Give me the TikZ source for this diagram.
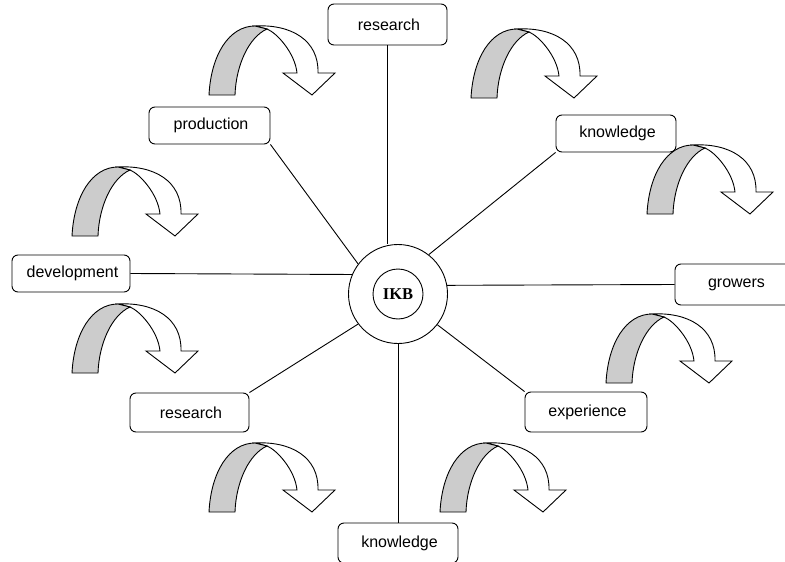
\documentclass[tikz,border=0pt]{standalone}
\usepackage{fontspec}
\setmainfont{Liberation Sans}
\newfontfamily\ikbfont{Liberation Serif}
\definecolor{bandgray}{HTML}{CCCCCC}
\tikzset{
  x=1pt, y=-1pt,
  lbl/.style={draw=black, line width=0.9pt, rounded corners=6pt, fill=white,
    font=\fontsize{16}{19}\selectfont, inner sep=0pt},
  conn/.style={draw=black, line width=0.9pt},
  ring/.style={draw=black, line width=0.9pt, circle, inner sep=0pt},
  curvarrow/.pic={
    \draw[line width=0.9pt, fill=white, line join=miter]
      (46,-69) .. controls (82,-71) and (110,-55) .. (109,-22)
      -- (126,-22) -- (103,0) -- (74,-22) -- (88,-22)
      .. controls (86,-42) and (68,-62) .. (58,-66) -- cycle;
    \draw[line width=0.9pt, fill=bandgray]
      (0,0) .. controls (2,-40) and (20,-69) .. (46,-69)
      -- (58,-66) .. controls (40,-58) and (27,-30) .. (26,0) -- cycle;
  }
}
\begin{document}
\begin{tikzpicture}
\useasboundingbox (0,0) rectangle (785,562);
\clip (0,0) rectangle (785,562);

% curved arrows
\pic at (209,95) {curvarrow};
\pic at (471,98) {curvarrow};
\pic at (72,236) {curvarrow};
\pic at (647,214) {curvarrow};
\pic at (72,373) {curvarrow};
\pic at (606,383) {curvarrow};
\pic at (209,512) {curvarrow};
\pic at (440,512) {curvarrow};

% centre
\node[ring, minimum size=99pt] (ikb) at (398,294) {};
\node[ring, minimum size=50pt] (ikbin) at (398,294) {\ikbfont\bfseries\fontsize{16.5}{19}\selectfont IKB};

% boxes
\node[lbl, minimum width=119pt, minimum height=41pt] (rtop) at (387.5,24.5) {\hspace{3pt}research};
\node[lbl, minimum width=121pt, minimum height=37pt] (prod) at (209.5,125.5) {\hspace{3pt}production};
\node[lbl, minimum width=120pt, minimum height=37pt] (know1) at (616,133.5) {\hspace{3pt}knowledge};
\node[lbl, minimum width=118pt, minimum height=37pt] (dev) at (71,273.5) {\hspace{3pt}development};
\node[lbl, minimum width=120pt, minimum height=41pt] (grow) at (735,284.5) {\hspace{3pt}growers};
\node[lbl, minimum width=119pt, minimum height=39pt] (rlow) at (189.5,412.5) {\hspace{3pt}research};
\node[lbl, minimum width=122pt, minimum height=40pt] (exp) at (586,412) {\hspace{3pt}experience};
\node[lbl, minimum width=120pt, minimum height=40pt] (know2) at (398,543) {\hspace{3pt}knowledge};

% connectors
\draw[conn] (rtop.south) -- (rtop.south |- ikb.north);
\draw[conn] (prod.south east) -- (ikb.143);
\draw[conn] (know1.south west) -- (ikb.52);
\draw[conn] (dev.east) -- (ikb.157);
\draw[conn] (ikb.10) -- (grow.west);
\draw[conn] (rlow.north east) -- (ikb.217);
\draw[conn] (exp.north west) -- (ikb.-38);
\draw[conn] (ikb.south) -- (know2.north);
\end{tikzpicture}
\end{document}
